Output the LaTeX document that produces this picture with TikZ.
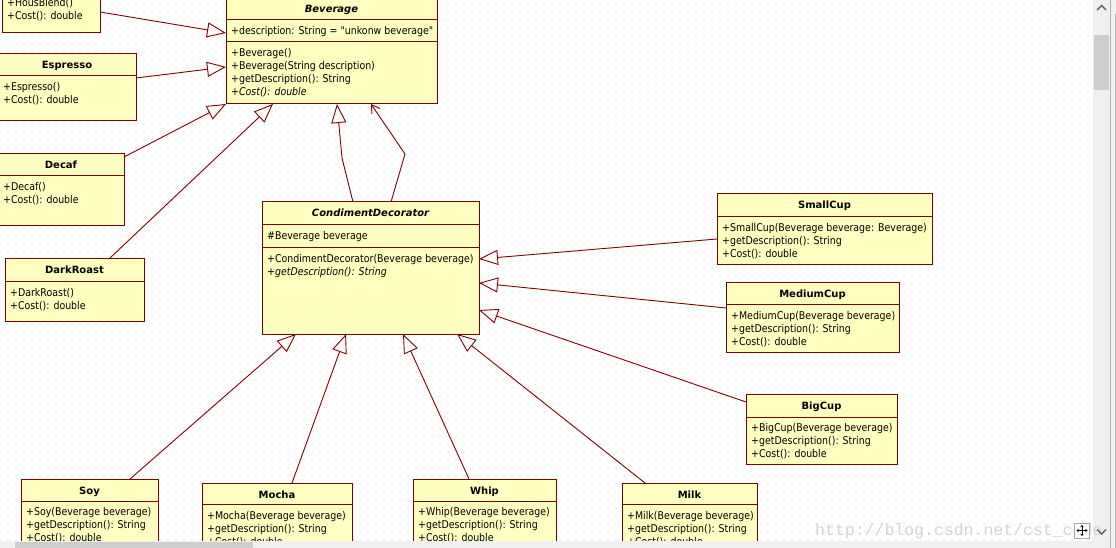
\documentclass[tikz,border=0pt]{standalone}
\usepackage{fontspec}
\setmainfont{DejaVu Sans}[FakeStretch=0.88, Ligatures=TeXOff]
\newfontfamily\ttlfont{DejaVu Sans}
\newfontfamily\wmfont{Liberation Mono}
\usetikzlibrary{arrows.meta,patterns.meta}
\definecolor{umlred}{HTML}{800000}
\definecolor{umlfill}{HTML}{FFFFC0}
\definecolor{sbbg}{HTML}{F0F0F0}
\definecolor{sbthumb}{HTML}{CDCDCD}
\definecolor{griddot}{HTML}{B4B4B4}
\definecolor{wmgray}{HTML}{D4D4D4}
\tikzset{
  clsbox/.style={draw=umlred, fill=umlfill, line width=1pt, inner sep=0pt, outer sep=0pt},
  clsline/.style={draw=umlred, line width=1pt},
  clstitle/.style={anchor=base, inner sep=0pt, font=\ttlfont\bfseries\fontsize{10}{12}\selectfont},
  clstext/.style={anchor=base west, inner sep=0pt, font=\fontsize{10.7}{13}\selectfont},
  gen/.style={draw=umlred, line width=0.9pt, -{Triangle[open, length=19pt, width=15pt]}},
  assoc/.style={draw=umlred, line width=0.9pt, -{Straight Barb[length=8pt, width=10pt]}},
  wm/.style={anchor=base west, inner sep=0pt, text=wmgray, font=\wmfont\fontsize{16.5}{18}\selectfont},
}
\newcommand{\umlclass}[5]{%
  \node[clsbox, minimum width={#4-(#2)}, minimum height={#5-(#3)}] (#1) at ({(#2+#4)/2},{(#3+#5)/2}) {};}
\newcommand{\umltitle}[2]{%
  \node[clstitle] (#1-title) at ([yshift=-15pt]#1.north) {#2};}
\newcommand{\umldiv}[2]{%
  \draw[clsline] (#1.west |- 0,#2) -- (#1.east |- 0,#2);}
\newcommand{\umllines}[4]{%
  \foreach \ln [count=\i] in {#4} {%
    \pgfmathsetmacro\yy{#3+13*(\i-1)}
    \node[clstext] (#1-#2\i) at ([xshift=5pt]#1.west |- 0,\yy) {\ln};}}
\begin{document}
\begin{tikzpicture}[x=1pt,y=-1pt]
\useasboundingbox (0,0) rectangle (1116,548);
\begin{scope}
\clip (0,0) rectangle (1116,548);
\fill[white] (0,0) rectangle (1116,548);
\fill[pattern={Dots[distance=8pt, radius=0.5pt]}, pattern color=griddot] (0,0) rectangle (1093,541);

% ---------- classes ----------
\umlclass{hb}{2}{-30}{100}{33}
\umllines{hb}{m}{6.5}{+HousBlend(),+Cost(): double}

\umlclass{esp}{-2}{54}{136}{121}
\umltitle{esp}{Espresso}
\umldiv{esp}{76}
\umllines{esp}{m}{91}{+Espresso(),+Cost(): double}

\umlclass{decaf}{-2}{154}{124}{225}
\umltitle{decaf}{Decaf}
\umldiv{decaf}{176}
\umllines{decaf}{m}{191}{+Decaf(),+Cost(): double}

\umlclass{dr}{5}{258}{144}{321}
\umltitle{dr}{DarkRoast}
\umldiv{dr}{281}
\umllines{dr}{m}{296}{+DarkRoast(),+Cost(): double}

\umlclass{bev}{226}{-2}{437}{104}
\umltitle{bev}{\itshape Beverage}
\umldiv{bev}{20}
\umldiv{bev}{42}
\umllines{bev}{a}{35}{+description: String = "unkonw beverage"}
\umllines{bev}{m}{57}{+Beverage(),+Beverage(String description),+getDescription(): String,\textit{+Cost(): double}}

\umlclass{cd}{262}{202}{479}{334}
\umltitle{cd}{\itshape CondimentDecorator}
\umldiv{cd}{224}
\umldiv{cd}{247}
\umllines{cd}{a}{239}{\#Beverage beverage}
\umllines{cd}{m}{262}{+CondimentDecorator(Beverage beverage),\textit{+getDescription(): String}}

\umlclass{sc}{717}{194}{932}{264}
\umltitle{sc}{SmallCup}
\umldiv{sc}{217}
\umllines{sc}{m}{231.5}{+SmallCup(Beverage beverage: Beverage),+getDescription(): String,+Cost(): double}

\umlclass{mc}{726}{282}{899}{352}
\umltitle{mc}{MediumCup}
\umldiv{mc}{304}
\umllines{mc}{m}{319}{+MediumCup(Beverage beverage),+getDescription(): String,+Cost(): double}

\umlclass{bc}{746}{394}{897}{464}
\umltitle{bc}{BigCup}
\umldiv{bc}{417}
\umllines{bc}{m}{431.5}{+BigCup(Beverage beverage),+getDescription(): String,+Cost(): double}

\umlclass{soy}{21}{479}{158}{570}
\umltitle{soy}{Soy}
\umldiv{soy}{501}
\umllines{soy}{m}{515.5}{+Soy(Beverage beverage),+getDescription(): String,+Cost(): double}

\umlclass{mocha}{202}{483}{352}{574}
\umltitle{mocha}{Mocha}
\umldiv{mocha}{504}
\umllines{mocha}{m}{519}{+Mocha(Beverage beverage),+getDescription(): String,+Cost(): double}

\umlclass{whip}{413}{479}{556}{570}
\umltitle{whip}{Whip}
\umldiv{whip}{501}
\umllines{whip}{m}{515.5}{+Whip(Beverage beverage),+getDescription(): String,+Cost(): double}

\umlclass{milk}{622}{483}{757}{574}
\umltitle{milk}{Milk}
\umldiv{milk}{504}
\umllines{milk}{m}{519}{+Milk(Beverage beverage),+getDescription(): String,+Cost(): double}

% ---------- connectors ----------
\coordinate (w1) at (342,158);
\coordinate (w2) at (405,154);
\draw[gen] (hb.east |- 0,12) -- (bev.west |- 0,33);
\draw[gen] (esp.east |- 0,78) -- (bev.west |- 0,67);
\draw[gen] (decaf.east |- 0,157) -- (bev.south west);
\draw[gen] (dr.north -| 110,0) -- (bev.south -| 273,0);
\draw[gen] (cd.north -| 353,0) -- (w1) -- (bev.south -| 337,0);
\draw[assoc] (cd.north -| 391,0) -- (w2) -- (bev.south -| 371,0);
\draw[gen] (sc.west |- 0,239) -- (cd.east |- 0,259);
\draw[gen] (mc.west |- 0,308) -- (cd.east |- 0,283);
\draw[gen] (bc.west |- 0,402) -- (cd.east |- 0,310);
\draw[gen] (soy.north -| 130,0) -- (cd.south -| 296,0);
\draw[gen] (mocha.north -| 292,0) -- (cd.south -| 346,0);
\draw[gen] (whip.north -| 469,0) -- (cd.south -| 403,0);
\draw[gen] (milk.north -| 645,0) -- (cd.south -| 457,0);

% ---------- window chrome ----------
\fill[sbbg] (1093,0) rectangle (1116,548);
\fill[sbthumb] (1094,35) rectangle (1109,90);
\draw[gray!60, line width=1pt] (1110.5,0) -- (1110.5,548);
\draw[gray!60, line width=1pt] (1115.5,14) -- (1115.5,548);
\fill[sbbg] (0,541) rectangle (1093,548);
\fill[sbthumb] (15,542) rectangle (253,548);

% ---------- watermark (overlay) ----------
\node[wm] (wmark) at (815,535) {http://blog.csdn.net/cst\_code};

\draw[gray!75!black, line width=1.4pt] (1097,10) -- (1101.5,5.5) -- (1106,10);
\draw[gray!75!black, line width=1.4pt] (1097,529.5) -- (1101.5,534) -- (1106,529.5);
\node[draw=gray!70, fill=white, minimum size=15pt, inner sep=0pt, line width=0.8pt] (icon) at (1082,530.5) {};
\foreach \d in {(0,-5.5),(0,5.5),(-5.5,0),(5.5,0)}
  \draw[black, line width=0.9pt, -{Stealth[length=2.2pt, width=3.5pt]}] (icon.center) -- ++\d;
\end{scope}
\end{tikzpicture}
\end{document}
